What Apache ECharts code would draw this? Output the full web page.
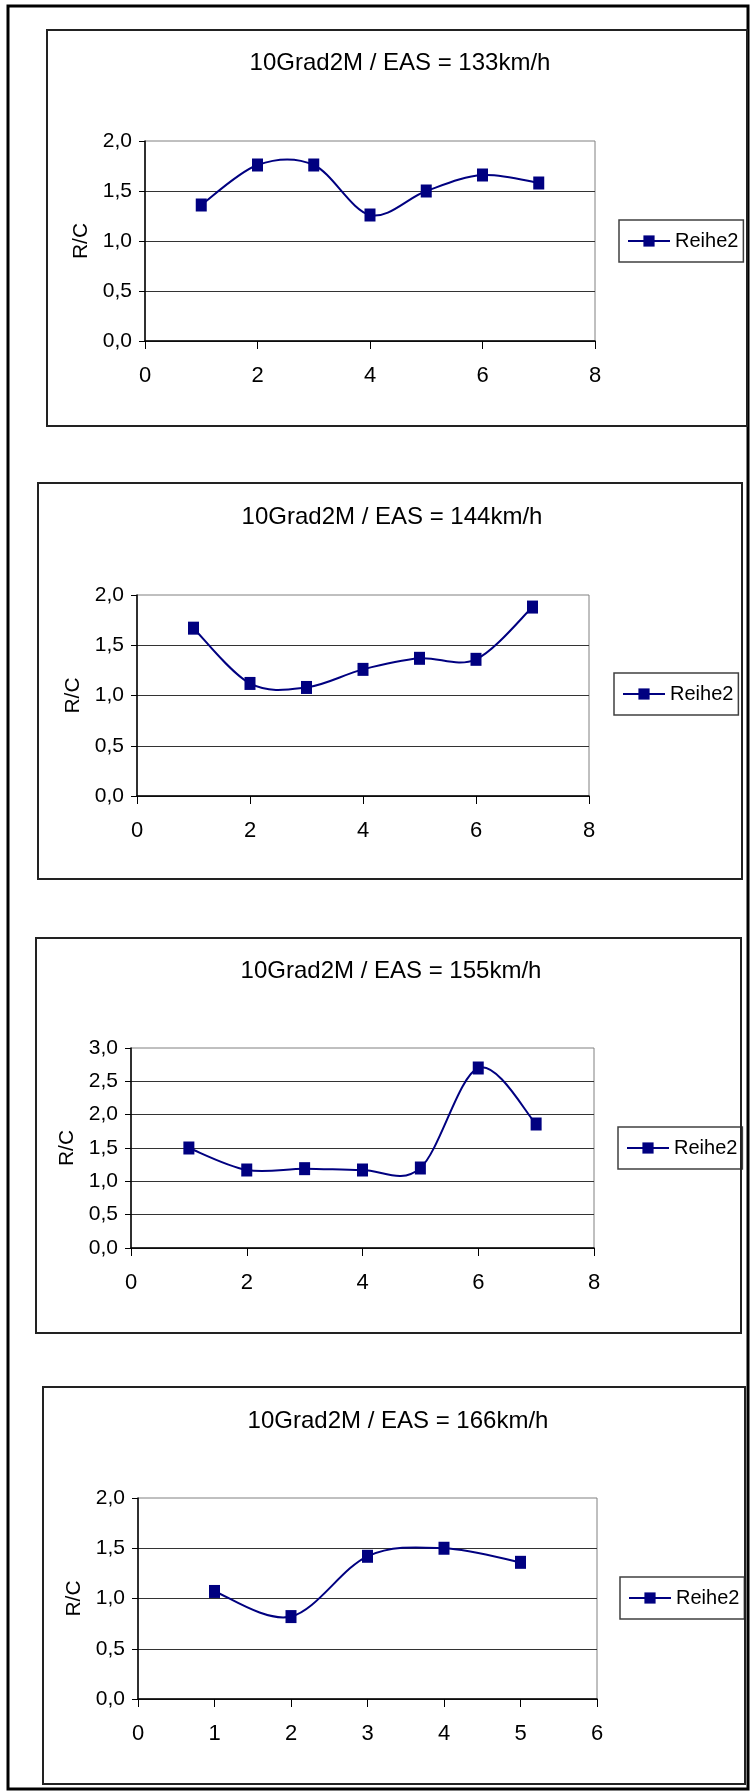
<!DOCTYPE html>
<html>
<head>
<meta charset="utf-8">
<script src="https://cdn.jsdelivr.net/npm/echarts@6/dist/echarts.min.js"></script>
<style>
html,body{margin:0;padding:0;background:#fff;}
#c{width:750px;height:1791px;}
</style>
</head>
<body>
<div id="c"></div>
<script>
// ---- data ----
const titles = [
  '10Grad2M / EAS = 133km/h',
  '10Grad2M / EAS = 144km/h',
  '10Grad2M / EAS = 155km/h',
  '10Grad2M / EAS = 166km/h'
];
const seriesName = 'Reihe2';
const yAxisName = 'R/C';

const x1 = [1, 2, 3, 4, 5, 6, 7];
const y1 = [1.36, 1.76, 1.76, 1.26, 1.50, 1.66, 1.58];
const x2 = [1, 2, 3, 4, 5, 6, 7];
const y2 = [1.67, 1.12, 1.08, 1.26, 1.37, 1.36, 1.88];
const x3 = [1, 2, 3, 4, 5, 6, 7];
const y3 = [1.50, 1.17, 1.19, 1.17, 1.20, 2.70, 1.86];
const x4 = [1, 2, 3, 4, 5];
const y4 = [1.07, 0.82, 1.42, 1.50, 1.36];

const xMax = [8, 8, 8, 6];
const xStep = [2, 2, 2, 1];
const yMax = [2, 2, 3, 2];
const yStep = [0.5, 0.5, 0.5, 0.5];

// ---- layout / style ----
const XS = [x1, x2, x3, x4];
const YS = [y1, y2, y3, y4];
const FONT = "'Liberation Sans', Arial, sans-serif";
const NAVY = '#000080';
const layout = [
  {box: [47, 30, 700, 396],  grid: [145, 141, 450, 200],  title: [400, 63],   legend: [619, 220]},
  {box: [38, 483, 704, 396], grid: [137, 595, 452, 201],  title: [392, 517],  legend: [614, 673]},
  {box: [36, 938, 705, 395], grid: [131, 1048, 463, 200], title: [391, 971],  legend: [618, 1127]},
  {box: [43, 1387, 702, 397],grid: [138, 1498, 459, 201], title: [398, 1421], legend: [620, 1577]}
];

function curveSeries(i) {
  const xs = XS[i], ys = YS[i], n = xs.length;
  return {
    type: 'custom',
    name: 'curve' + i,
    xAxisIndex: i,
    yAxisIndex: i,
    silent: true,
    z: 2,
    data: xs.map((x, j) => [x, ys[j]]),
    encode: {x: 0, y: 1},
    renderItem: function (params, api) {
      const j = params.dataIndex;
      if (j >= n - 1) return null;
      const P = k => {
        const kk = Math.max(0, Math.min(n - 1, k));
        return api.coord([xs[kk], ys[kk]]);
      };
      const p0 = P(j - 1), p1 = P(j), p2 = P(j + 1), p3 = P(j + 2);
      return {
        type: 'bezierCurve',
        shape: {
          x1: p1[0], y1: p1[1], x2: p2[0], y2: p2[1],
          cpx1: p1[0] + (p2[0] - p0[0]) / 6, cpy1: p1[1] + (p2[1] - p0[1]) / 6,
          cpx2: p2[0] - (p3[0] - p1[0]) / 6, cpy2: p2[1] - (p3[1] - p1[1]) / 6
        },
        style: {stroke: NAVY, lineWidth: 2, fill: null}
      };
    }
  };
}

function markerSeries(i) {
  return {
    type: 'line',
    name: seriesName,
    xAxisIndex: i,
    yAxisIndex: i,
    z: 3,
    data: XS[i].map((x, j) => [x, YS[i][j]]),
    symbol: 'rect',
    symbolSize: [11, 13],
    showSymbol: true,
    itemStyle: {color: NAVY},
    lineStyle: {color: NAVY, width: 2, opacity: 0},
    emphasis: {disabled: true}
  };
}

const fmt = v => v.toFixed(1).replace('.', ',');

const option = {
  animation: false,
  backgroundColor: '#fff',
  title: layout.map((l, i) => ({
    text: titles[i],
    left: l.title[0],
    top: l.title[1],
    textAlign: 'center',
    textVerticalAlign: 'middle',
    padding: 0,
    textStyle: {fontFamily: FONT, fontSize: 24, fontWeight: 'normal', color: '#000'}
  })),
  legend: layout.map((l, i) => ({
    data: [seriesName],
    left: l.legend[0],
    top: l.legend[1],
    orient: 'horizontal',
    padding: [11, 5, 11, 8],
    itemWidth: 42,
    itemHeight: 14,
    borderColor: '#404040',
    borderWidth: 1.5,
    backgroundColor: '#fff',
    selectedMode: false,
    textStyle: {fontFamily: FONT, fontSize: 20, color: '#000'},
    lineStyle: {color: NAVY, width: 2, opacity: 1},
    itemStyle: {color: NAVY}
  })),
  grid: layout.map(l => ({
    left: l.grid[0], top: l.grid[1], width: l.grid[2], height: l.grid[3],
    show: true, borderColor: '#808080', borderWidth: 1, backgroundColor: '#fff',
    containLabel: false
  })),
  xAxis: layout.map((l, i) => ({
    gridIndex: i, type: 'value', min: 0, max: xMax[i], interval: xStep[i],
    axisLine: {show: true, onZero: false, lineStyle: {color: '#000', width: 1.5}},
    axisTick: {show: true, inside: false, length: 8, lineStyle: {color: '#000', width: 1}},
    axisLabel: {margin: 24, fontSize: 22, fontFamily: FONT, color: '#000'},
    splitLine: {show: false}
  })),
  yAxis: layout.map((l, i) => ({
    gridIndex: i, type: 'value', min: 0, max: yMax[i], interval: yStep[i],
    name: yAxisName, nameLocation: 'middle', nameGap: 50, nameRotate: 90,
    nameTextStyle: {fontFamily: FONT, fontSize: 21, color: '#000'},
    axisLine: {show: true, onZero: false, lineStyle: {color: '#000', width: 1.5}},
    axisTick: {show: true, inside: false, length: 6, lineStyle: {color: '#000', width: 1}},
    axisLabel: {margin: 13, fontSize: 21, fontFamily: FONT, color: '#000', formatter: fmt},
    splitLine: {show: true, showMaxLine: false, lineStyle: {color: '#333', width: 1}}
  })),
  graphic: [
    {type: 'rect', z: 100, silent: true, shape: {x: 8, y: 6, width: 740, height: 1783},
     style: {fill: null, stroke: '#000', lineWidth: 3}}
  ].concat(layout.map(l => ({
    type: 'rect', z: 100, silent: true,
    shape: {x: l.box[0], y: l.box[1], width: l.box[2], height: l.box[3]},
    style: {fill: null, stroke: '#222', lineWidth: 2}
  }))),
  series: []
};
for (let i = 0; i < 4; i++) {
  option.series.push(curveSeries(i));
  option.series.push(markerSeries(i));
}

const chart = echarts.init(document.getElementById('c'), null, {renderer: 'canvas'});
chart.setOption(option);
</script>
</body>
</html>
